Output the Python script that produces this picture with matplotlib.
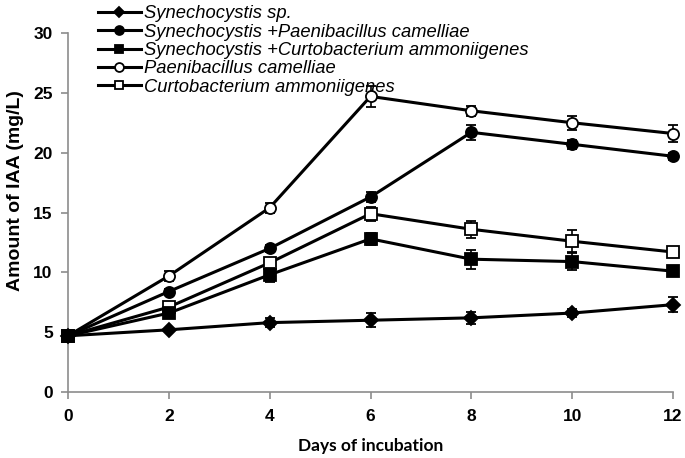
import matplotlib
matplotlib.use("Agg")
import matplotlib.pyplot as plt

days = [0, 2, 4, 6, 8, 10, 12]
labels = ["Synechocystis sp.",
          "Synechocystis +Paenibacillus camelliae",
          "Synechocystis +Curtobacterium ammoniigenes",
          "Paenibacillus camelliae",
          "Curtobacterium ammoniigenes"]
syn = [4.7, 5.2, 5.8, 6.0, 6.2, 6.6, 7.3]
syn_err = [0.1, 0.1, 0.4, 0.6, 0.5, 0.3, 0.6]
syn_pc = [4.7, 8.4, 12.0, 16.3, 21.7, 20.7, 19.7]
syn_pc_err = [0.1, 0.2, 0.3, 0.4, 0.6, 0.4, 0.3]
syn_ca = [4.7, 6.6, 9.8, 12.8, 11.1, 10.9, 10.1]
syn_ca_err = [0.1, 0.3, 0.6, 0.5, 0.8, 0.7, 0.3]
pc = [4.7, 9.7, 15.4, 24.7, 23.5, 22.5, 21.6]
pc_err = [0.1, 0.4, 0.4, 0.9, 0.4, 0.6, 0.7]
ca = [4.7, 7.1, 10.8, 14.9, 13.6, 12.6, 11.7]
ca_err = [0.1, 0.3, 0.4, 0.6, 0.7, 0.9, 0.4]

series = [syn, syn_pc, syn_ca, pc, ca]
errs = [syn_err, syn_pc_err, syn_ca_err, pc_err, ca_err]
markers = ["D", "o", "s", "o", "s"]
faces = ["black", "black", "black", "white", "white"]
msizes = [7, 8, 8, 8, 8]
zorders = [3, 4, 6, 2, 2.5]

fig = plt.figure(figsize=(6.85, 4.58), dpi=100)
ax = fig.add_axes([0.0993, 0.144, 0.8832, 0.784])

handles = []
for y, e, m, fc, ms, lab, z in zip(series, errs, markers, faces, msizes, labels, zorders):
    h = ax.errorbar(days, y, yerr=e, color="black", lw=2.2, marker=m, ms=ms,
                    mfc=fc, mec="black", mew=1.3, capsize=3.5, elinewidth=1.2,
                    capthick=1.2, zorder=z)
    for art in h.get_children():
        art.set_clip_on(False)
    handles.append(h[0])

ax.set_xlim(0, 12)
ax.set_ylim(0, 30)
ax.set_xticks(days)
ax.set_yticks(range(0, 31, 5))
for s in ["top", "right"]:
    ax.spines[s].set_visible(False)
for s in ["left", "bottom"]:
    ax.spines[s].set_color("#8c8c8c")
    ax.spines[s].set_linewidth(1.2)
ax.tick_params(axis="both", direction="out", color="#8c8c8c", width=1.2, length=5)
for t in ax.get_xticklabels() + ax.get_yticklabels():
    t.set_fontfamily("Liberation Sans")
    t.set_fontweight("bold")
    t.set_fontsize(12.5)
ax.tick_params(axis="x", pad=7)
ax.tick_params(axis="y", pad=6)

ax.set_ylabel("Amount of IAA (mg/L)", fontfamily="Liberation Sans",
              fontweight="bold", fontsize=14)
ax.yaxis.set_label_coords(-0.073, 0.56)
ax.set_xlabel("Days of incubation", fontfamily="Lato", fontweight="bold",
              fontsize=12.5, labelpad=10)

leg = fig.legend(handles, labels, loc="upper left",
                 bbox_to_anchor=(0.124, 1.017), frameon=False,
                 prop={"family": "Liberation Sans", "style": "italic", "size": 13.2},
                 handlelength=2.35, handletextpad=0.15, labelspacing=0.08,
                 borderpad=0.2, markerscale=0.8)

fig.savefig("out.png", dpi=100)
